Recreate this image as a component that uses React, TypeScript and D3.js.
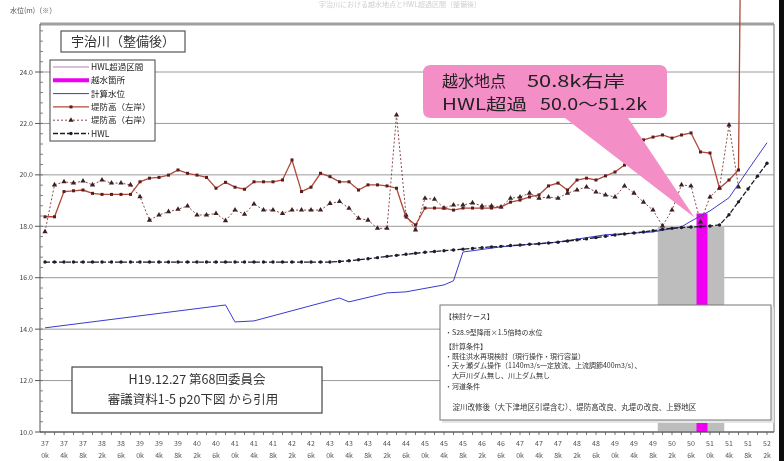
import React from 'react';
import * as d3 from 'd3';

const W = 784;
const H = 461;

// distance markers (km)
const distanceKm = [37.0,37.2,37.4,37.6,37.8,38.0,38.2,38.4,38.6,38.8,39.0,39.2,39.4,39.6,39.8,40.0,40.2,40.4,40.6,40.8,41.0,41.2,41.4,41.6,41.8,42.0,42.2,42.4,42.6,42.8,43.0,43.2,43.4,43.6,43.8,44.0,44.2,44.4,44.6,44.8,45.0,45.2,45.4,45.6,45.8,46.0,46.2,46.4,46.6,46.8,47.0,47.2,47.4,47.6,47.8,48.0,48.2,48.4,48.6,48.8,49.0,49.2,49.4,49.6,49.8,50.0,50.2,50.4,50.6,50.8,51.0,51.2,51.4,51.6,51.8,52.0,52.2];

// 堤防高（左岸）
const leftBank: (number | null)[] = [18.37,18.37,19.35,19.38,19.41,19.28,19.24,19.24,19.24,19.24,19.73,19.87,19.90,19.99,20.19,20.06,19.99,19.90,19.48,19.71,19.52,19.44,19.73,19.73,19.73,19.80,20.58,19.35,19.52,20.06,19.93,19.73,19.73,19.41,19.61,19.61,19.57,19.48,18.36,18.05,18.71,18.71,18.71,18.63,18.71,18.71,18.71,18.71,18.75,18.94,19.02,19.14,19.22,19.57,19.68,19.41,19.80,19.87,19.80,19.96,20.11,20.38,20.97,21.36,21.47,21.55,21.43,21.55,21.63,20.89,20.85,19.48,19.80,20.19,60.0,null,null];

// 堤防高（右岸）
const rightBank: (number | null)[] = [17.79,19.61,19.73,19.68,19.76,19.61,19.80,19.68,19.68,19.61,19.15,18.24,18.44,18.57,18.66,18.79,18.44,18.44,18.50,18.22,18.63,18.47,18.87,18.63,18.63,18.50,18.63,18.63,18.63,18.63,18.89,18.96,18.70,18.31,18.24,17.92,17.92,22.33,18.44,17.86,19.09,19.05,18.71,18.83,18.83,18.91,18.79,18.79,18.75,19.09,19.14,19.29,19.09,19.14,19.09,19.29,19.41,19.53,19.33,19.22,19.14,19.57,19.29,18.94,18.63,18.01,18.63,19.61,19.57,18.17,19.14,19.49,21.94,19.53,null,null,null];

// HWL
const hwl: number[] = [16.61,16.61,16.61,16.61,16.61,16.61,16.61,16.61,16.61,16.61,16.61,16.61,16.61,16.61,16.61,16.61,16.61,16.61,16.61,16.61,16.61,16.61,16.61,16.61,16.61,16.61,16.61,16.61,16.61,16.61,16.61,16.63,16.66,16.70,16.74,16.78,16.83,16.87,16.91,16.95,16.99,17.02,17.05,17.08,17.11,17.14,17.17,17.20,17.22,17.25,17.27,17.30,17.32,17.35,17.38,17.43,17.47,17.51,17.56,17.61,17.66,17.70,17.74,17.78,17.83,17.88,17.92,17.95,17.97,17.99,18.01,18.05,18.45,18.95,19.45,19.95,20.45];

// 計算水位 (breakpoints)
const waterKm = [37.0,40.8,41.0,41.4,43.2,43.4,44.2,44.6,45.4,45.6,45.8,46.6,47.8,48.8,49.8,50.4,50.6,50.8,51.0,51.4,51.8,52.2];
const waterLevel = [14.05,14.94,14.28,14.32,15.21,15.06,15.41,15.45,15.72,15.88,17.0,17.2,17.39,17.67,17.78,17.98,18.2,18.4,18.6,19.11,20.19,21.25];

const yTicks = [10, 12, 14, 16, 18, 20, 22, 24];
const exceedRangeKm = [50.0, 51.2];
const exceedTopLevel = 18.0;
const overtopKm = 50.8;
const overtopLevel = 18.5;

const legendLabels = ['HWL超過区間', '越水箇所', '計算水位', '堤防高（左岸）', '堤防高（右岸）', 'HWL'];
const infoLines = [
  '【検討ケース】',
  '・S28.9型降雨×1.5倍時の水位',
  '【計算条件】',
  '・既往洪水再現検討（現行操作・現行容量）',
  '・天ヶ瀬ダム操作（1140m3/s一定放流、上流調節400m3/s）、',
  '　大戸川ダム無し、川上ダム無し',
  '・河道条件',
  '　淀川改修後（大下津地区引堤含む）、堤防高改良、丸堤の改良、上野地区',
];

const FONT = "'Noto Sans CJK JP', 'Noto Sans', sans-serif";

export default function App() {
  const x = d3.scaleLinear().domain([37.0, 52.2]).range([45, 767]);
  const y = d3.scaleLinear().domain([10, 24]).range([432, 72]);
  const step = x(37.2) - x(37.0);

  const lineFor = (vals: (number | null)[]) =>
    d3.line<number | null>()
      .defined((d) => d != null)
      .x((_, i) => x(distanceKm[i]))
      .y((d) => y(d as number))(vals) || '';

  const waterPath = d3.line<number>()
    .x((_, i) => x(waterKm[i]))
    .y((d) => y(d))(waterLevel) || '';

  const minorTicks = d3.range(10, 25.8, 0.4);
  const tri = d3.symbol().type(d3.symbolTriangle).size(12)() || '';
  const dia = d3.symbol().type(d3.symbolSquare).size(9)() || '';

  const tipX = x(overtopKm) - 6;
  const tipY = y(overtopLevel) + 4;
  const calloutPath = `M431,65 H659 Q667,65 667,73 V110 Q667,118 659,118 H628 L${tipX},${tipY} L565,118 H431 Q423,118 423,110 V73 Q423,65 431,65 Z`;

  const xLabelIdx = distanceKm.map((_, i) => i).filter((i) => i % 2 === 0);

  return (
    <div style={{ position: 'absolute', left: 0, top: 0 }}>
      <svg width={W} height={H} style={{ display: 'block', fontFamily: FONT }}>
        <defs>
          <filter id="soft" x="-5%" y="-5%" width="110%" height="110%">
            <feGaussianBlur stdDeviation="0.4" />
          </filter>
        </defs>
        <rect x={0} y={0} width={W} height={H} fill="#fff" />
        <g filter="url(#soft)">
          {/* faint title */}
          <text x={400} y={7} textAnchor="middle" fontSize={7} fill="#cfcfcf">宇治川における越水地点とHWL超過区間（整備後）</text>
          <text x={10} y={13} fontSize={7} fill="#555">水位(m)（※）</text>

          {/* gridlines */}
          {yTicks.map((t) => (
            <line key={t} x1={40} x2={774} y1={y(t)} y2={y(t)} stroke="#9a9a9a" strokeWidth={1} />
          ))}

          {/* exceed band & overtop bar */}
          <rect x={x(exceedRangeKm[0]) - step / 2} y={y(exceedTopLevel)} width={x(exceedRangeKm[1]) - x(exceedRangeKm[0]) + step} height={y(10) - y(exceedTopLevel)} fill="#bdbdbd" />
          <rect x={x(overtopKm) - 4} y={y(overtopLevel)} width={11} height={y(10) - y(overtopLevel)} fill="#f000f0" />

          {/* frame */}
          <line x1={40} x2={774} y1={24} y2={24} stroke="#a0a0a0" strokeWidth={3} />
          <line x1={774} x2={774} y1={24} y2={432} stroke="#a0a0a0" strokeWidth={1.5} />
          <line x1={40} x2={40} y1={24} y2={432} stroke="#555" strokeWidth={1} />
          <line x1={40} x2={774} y1={432} y2={432} stroke="#444" strokeWidth={1.2} />
          {minorTicks.map((t, i) => (
            <line key={i} x1={40} x2={43} y1={y(t)} y2={y(t)} stroke="#666" strokeWidth={0.8} />
          ))}
          {yTicks.map((t) => (
            <g key={t}>
              <line x1={35} x2={40} y1={y(t)} y2={y(t)} stroke="#555" />
              <text x={33} y={y(t) + 2.5} textAnchor="end" fontSize={7} fill="#444">{t.toFixed(1)}</text>
            </g>
          ))}
          {distanceKm.map((k, i) => (
            <line key={i} x1={x(k)} x2={x(k)} y1={432} y2={435} stroke="#555" strokeWidth={0.8} />
          ))}
          {xLabelIdx.map((i) => {
            const k = distanceKm[i];
            const s = k.toFixed(1).split('.');
            return (
              <g key={i}>
                <text x={x(k)} y={446} textAnchor="middle" fontSize={7} fill="#555">{s[0]}</text>
                <text x={x(k)} y={458} textAnchor="middle" fontSize={7} fill="#555">{s[1] + 'k'}</text>
              </g>
            );
          })}

          {/* series */}
          <path d={waterPath} fill="none" stroke="#3a3ad0" strokeWidth={1} />
          <path d={lineFor(hwl)} fill="none" stroke="#1c1c2c" strokeWidth={1.3} strokeDasharray="5,2" />
          {hwl.map((v, i) => (
            <circle key={i} cx={x(distanceKm[i])} cy={y(v)} r={1.7} fill="#1c1c2c" />
          ))}
          <path d={lineFor(rightBank)} fill="none" stroke="#8a4848" strokeWidth={1} strokeDasharray="2,2" />
          {rightBank.map((v, i) => v == null ? null : (
            <path key={i} d={tri} transform={`translate(${x(distanceKm[i])},${y(v)})`} fill="#3a2020" />
          ))}
          <path d={lineFor(leftBank)} fill="none" stroke="#b04838" strokeWidth={1.3} />
          {leftBank.map((v, i) => v == null || v > 26 ? null : (
            <path key={i} d={dia} transform={`translate(${x(distanceKm[i])},${y(v)})`} fill="#5a1a1a" />
          ))}

          {/* callout */}
          <path d={calloutPath} fill="#f48ec6" />
          <text x={442} y={87} fontSize={16} fill="#222">越水地点</text>
          <text x={527} y={87} fontSize={16} fill="#222" textLength={98} lengthAdjust="spacingAndGlyphs">50.8k右岸</text>
          <text x={442} y={110} fontSize={16} fill="#222" textLength={85} lengthAdjust="spacingAndGlyphs">HWL超過</text>
          <text x={540} y={110} fontSize={16} fill="#222" textLength={107} lengthAdjust="spacingAndGlyphs">50.0～51.2k</text>

          {/* title box */}
          <rect x={61} y={31} width={124} height={21} fill="#fff" stroke="#555" strokeWidth={1.2} />
          <text x={123} y={46} textAnchor="middle" fontSize={13} fill="#333">宇治川（整備後）</text>

          {/* legend */}
          <rect x={50} y={60} width={105} height={81} fill="#fff" stroke="#444" strokeWidth={1} />
          {legendLabels.map((lab, i) => {
            const ly = 67 + i * 13.3;
            return (
              <g key={lab}>
                {i === 0 && <line x1={53} x2={89} y1={ly} y2={ly} stroke="#d8c0d8" strokeWidth={2} />}
                {i === 1 && <line x1={53} x2={89} y1={ly} y2={ly} stroke="#f000f0" strokeWidth={4} />}
                {i === 2 && <line x1={53} x2={89} y1={ly} y2={ly} stroke="#3a3ad0" strokeWidth={1} />}
                {i === 3 && (
                  <g>
                    <line x1={53} x2={89} y1={ly} y2={ly} stroke="#b04838" strokeWidth={1.3} />
                    <path d={dia} transform={`translate(71,${ly})`} fill="#5a1a1a" />
                  </g>
                )}
                {i === 4 && (
                  <g>
                    <line x1={53} x2={89} y1={ly} y2={ly} stroke="#8a4848" strokeWidth={1} strokeDasharray="2,2" />
                    <path d={tri} transform={`translate(71,${ly})`} fill="#3a2020" />
                  </g>
                )}
                {i === 5 && (
                  <g>
                    <line x1={53} x2={89} y1={ly} y2={ly} stroke="#1c1c2c" strokeWidth={1.3} strokeDasharray="5,2" />
                    <circle cx={71} cy={ly} r={1.7} fill="#1c1c2c" />
                  </g>
                )}
                <text x={91} y={ly + 3} fontSize={8.5} fill="#222">{lab}</text>
              </g>
            );
          })}

          {/* info box */}
          <rect x={442} y={307} width={332} height={116} fill="#e6e6e6" />
          <rect x={440} y={305} width={331} height={115} fill="#fff" stroke="#777" strokeWidth={1} />
          {infoLines.map((t, i) => {
            const ys = [319, 335, 349, 359, 368, 378, 389, 410];
            return (
              <text key={i} x={445} y={ys[i]} fontSize={i === 7 ? 7.5 : 7} fill="#333">{t}</text>
            );
          })}

          {/* citation box */}
          <rect x={72} y={367} width={250} height={46} fill="#fff" stroke="#444" strokeWidth={1.2} />
          <text x={197} y={384} textAnchor="middle" fontSize={12.5} fill="#333">H19.12.27 第68回委員会</text>
          <text x={193} y={404} textAnchor="middle" fontSize={12.5} fill="#333">審議資料1-5  p20下図 から引用</text>

          {/* image border */}
          <rect x={779} y={0} width={5} height={H} fill="#111" />
        </g>
      </svg>
    </div>
  );
}
